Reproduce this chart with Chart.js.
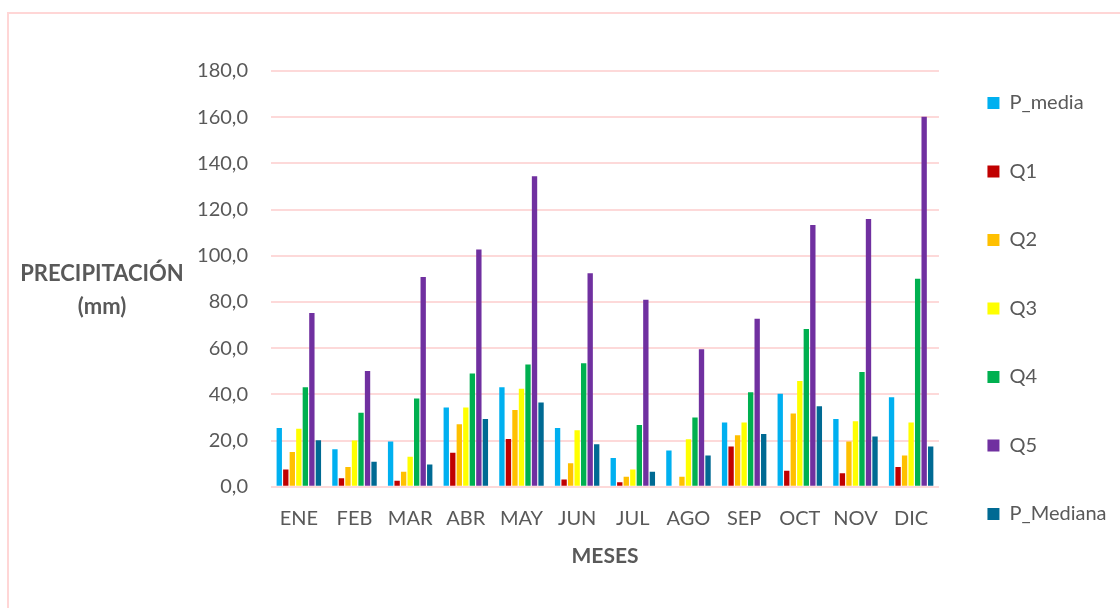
<!DOCTYPE html>
<html>
<head>
<meta charset="utf-8">
<script src="https://cdn.jsdelivr.net/npm/chart.js@4/dist/chart.umd.min.js"></script>
<style>
	html, body { margin: 0; padding: 0; background: #fff; overflow: hidden; }
	#marco { position: absolute; left: 7px; top: 12px; width: 1200px; height: 700px; border: 2px solid #ffd6d6; }
	#grafico { position: absolute; left: 0; top: 0; }
</style>
</head>
<body>
<div id="marco"></div>
<canvas id="grafico" width="1120" height="608"></canvas>
<script>
// Datos (mm)
const meses = ['ENE', 'FEB', 'MAR', 'ABR', 'MAY', 'JUN', 'JUL', 'AGO', 'SEP', 'OCT', 'NOV', 'DIC'];
const pMedia = [25.5, 16.3, 19.6, 34.3, 43.1, 25.5, 12.5, 15.7, 27.8, 40.3, 29.4, 38.8];
const q1 = [7.5, 3.7, 2.6, 14.7, 20.7, 3.2, 2.0, 0, 17.4, 6.9, 5.9, 8.6];
const q2 = [15.1, 8.6, 6.5, 27.1, 33.3, 10.2, 4.3, 4.3, 22.3, 31.7, 19.6, 13.5];
const q3 = [25.1, 20.0, 13.0, 34.3, 42.5, 24.5, 7.5, 20.6, 27.8, 45.8, 28.4, 27.8];
const q4 = [43.1, 32.1, 38.2, 49.1, 52.9, 53.5, 26.7, 30.0, 40.9, 68.3, 49.7, 90.1];
const q5 = [75.2, 50.1, 90.8, 102.7, 134.4, 92.4, 81.0, 59.5, 72.8, 113.3, 115.9, 160.2];
const pMediana = [20.2, 10.8, 9.7, 29.4, 36.5, 18.4, 6.5, 13.5, 22.9, 34.9, 21.8, 17.4];

const series = [
	{ label: 'P_media', data: pMedia, color: '#00b0f0' },
	{ label: 'Q1', data: q1, color: '#c00000' },
	{ label: 'Q2', data: q2, color: '#ffc000' },
	{ label: 'Q3', data: q3, color: '#ffff00' },
	{ label: 'Q4', data: q4, color: '#00b050' },
	{ label: 'Q5', data: q5, color: '#7030a0' },
	{ label: 'P_Mediana', data: pMediana, color: '#006a93' }
];

const fuente = 'Lato, "Open Sans", sans-serif';
const gris = '#595959';

// Título del eje Y escrito en horizontal, a la izquierda
const tituloY = {
	id: 'tituloY',
	afterDraw(chart) {
		const ctx = chart.ctx;
		ctx.save();
		ctx.font = 'bold 22px ' + fuente;
		ctx.fillStyle = gris;
		ctx.textAlign = 'center';
		ctx.textBaseline = 'middle';
		ctx.fillText('PRECIPITACIÓN', 102, 274);
		ctx.fillText('(mm)', 102, 307);
		ctx.restore();
	}
};

new Chart(document.getElementById('grafico'), {
	type: 'bar',
	data: {
		labels: meses,
		datasets: series.map((s) => ({
			label: s.label,
			data: s.data,
			backgroundColor: s.color,
			borderWidth: 0,
			categoryPercentage: 0.82,
			barPercentage: 0.82
		}))
	},
	options: {
		responsive: false,
		animation: false,
		layout: { padding: { left: 190, top: 44, bottom: 35, right: 3.5 } },
		plugins: {
			tooltip: { enabled: false },
			title: {
				display: true,
				text: ' ',
				font: { size: 10, lineHeight: 1 },
				padding: { top: 0, bottom: 17 }
			},
			legend: {
				position: 'right',
				maxWidth: 181,
				labels: {
					boxWidth: 12,
					boxHeight: 12,
					padding: 48.5,
					color: gris,
					font: { family: fuente, size: 20 }
				}
			}
		},
		scales: {
			x: {
				grid: { display: false, drawTicks: false },
				border: { display: false },
				ticks: { color: gris, padding: 20, maxRotation: 0, font: { family: fuente, size: 20 } },
				title: {
					display: true,
					text: 'MESES',
					color: gris,
					padding: { top: -7, bottom: 4 },
					font: { family: fuente, size: 21, weight: 'bold' }
				}
			},
			y: {
				min: 0,
				max: 180,
				afterFit(scale) { scale.width = 81; },
				grid: { color: '#fdd9d9', lineWidth: 2, drawTicks: false },
				border: { display: false },
				ticks: {
					stepSize: 20,
					padding: 23,
					color: gris,
					font: { family: fuente, size: 20 },
					callback: (v) => v.toFixed(1).replace('.', ',')
				}
			}
		}
	},
	plugins: [tituloY]
});
</script>
</body>
</html>
